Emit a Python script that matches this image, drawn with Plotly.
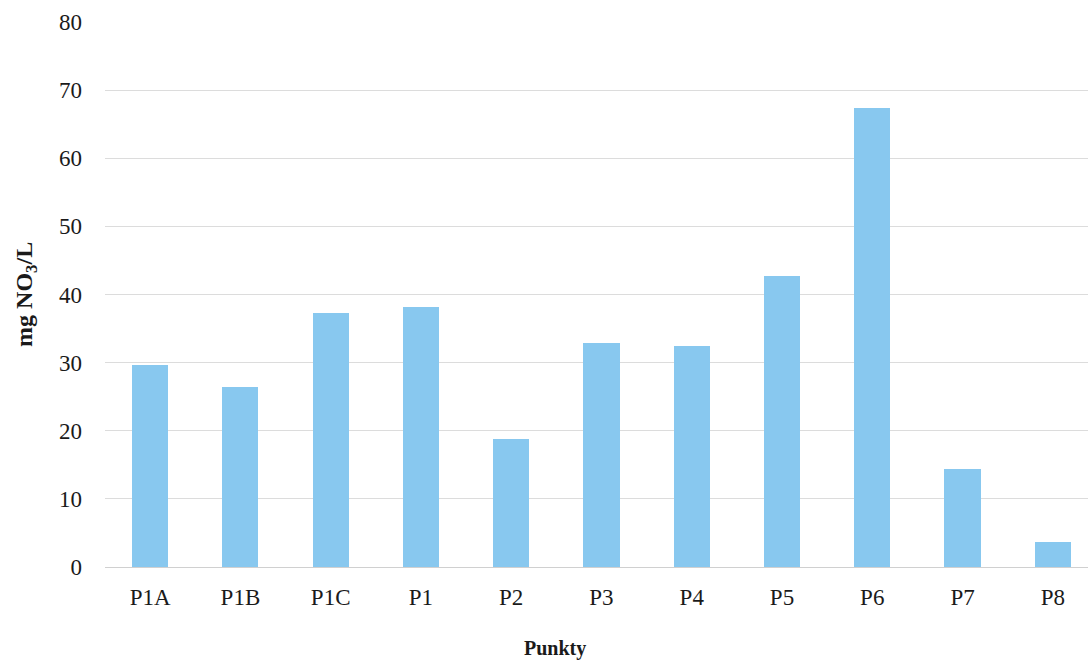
import plotly.graph_objects as go

# Nitrate concentration per sampling point
punkty = ["P1A", "P1B", "P1C", "P1", "P2", "P3", "P4", "P5", "P6", "P7", "P8"]
no3_mg_l = [29.7, 26.4, 37.3, 38.2, 18.8, 32.9, 32.4, 42.7, 67.4, 14.4, 3.7]
y_ticks = [0, 10, 20, 30, 40, 50, 60, 70, 80]

serif = "Liberation Serif, Times New Roman, serif"

fig = go.Figure(
    go.Bar(
        x=list(range(len(punkty))),
        y=no3_mg_l,
        width=0.4,
        marker=dict(color="#88c8ef", line=dict(width=0)),
    )
)

fig.update_layout(
    width=1088,
    height=661,
    margin=dict(l=105, r=0, t=22, b=94),
    paper_bgcolor="white",
    plot_bgcolor="white",
    font=dict(family=serif, size=23, color="#1a1a1a"),
    showlegend=False,
    bargap=0,
    annotations=[
        dict(
            text="<b>Punkty</b>",
            xref="paper", yref="paper",
            x=0.458, y=-0.150,
            xanchor="center", yanchor="middle",
            showarrow=False,
            font=dict(family=serif, size=20, color="#1a1a1a"),
        ),
        dict(
            text="<b>mg NO<sub>3</sub>/L</b>",
            xref="paper", yref="paper",
            x=-0.081, y=0.5,
            xanchor="center", yanchor="middle",
            textangle=-90,
            showarrow=False,
            font=dict(family=serif, size=24, color="#1a1a1a"),
        ),
    ],
)

fig.update_xaxes(
    tickmode="array",
    tickvals=list(range(len(punkty))),
    ticktext=punkty,
    range=[-0.5, 10.39],
    showgrid=False,
    zeroline=False,
    showline=False,
    ticks="",
    ticklabelstandoff=14,
    automargin=False,
)

fig.update_yaxes(
    range=[0, 80],
    tickmode="array",
    tickvals=y_ticks,
    showgrid=True,
    gridcolor="#dcdcdc",
    gridwidth=1,
    zeroline=True,
    zerolinecolor="#d0d0d0",
    zerolinewidth=1,
    showline=False,
    ticks="",
    ticklabelstandoff=22,
    automargin=False,
)

fig.write_html("out.html")
